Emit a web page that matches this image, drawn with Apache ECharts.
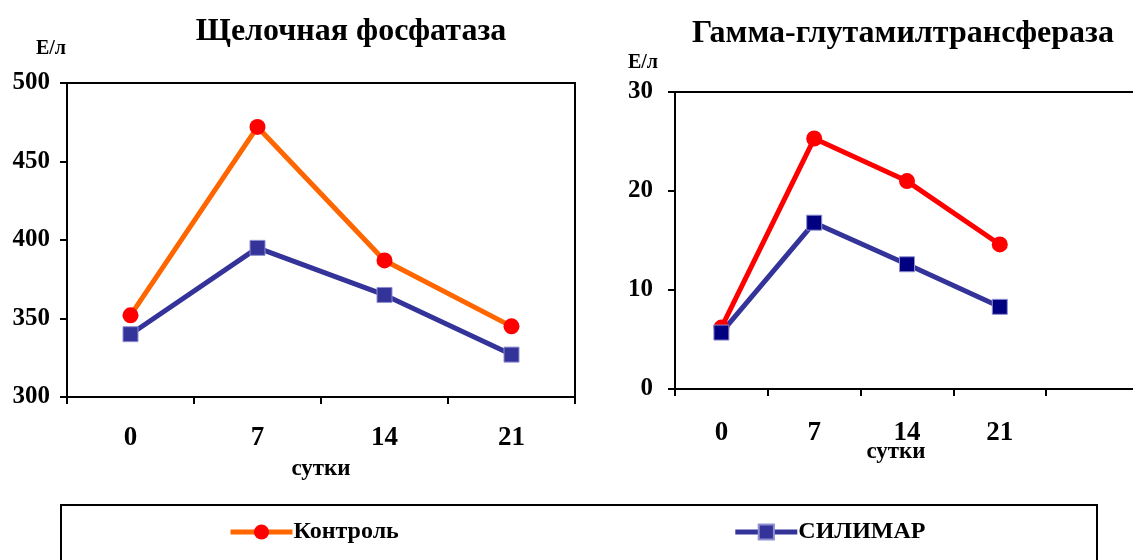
<!DOCTYPE html>
<html>
<head>
<meta charset="utf-8">
<script src="https://cdn.jsdelivr.net/npm/echarts@6/dist/echarts.min.js"></script>
<style>
  html, body { margin: 0; padding: 0; background: #fff; }
  #chart { width: 1133px; height: 560px; }
</style>
</head>
<body>
<div id="chart"></div>
<script>
// Days of observation
const days = ['0', '7', '14', '21'];
const daysGgt = ['0', '7', '14', '21', ''];

// Alkaline phosphatase, U/l
const alpControl = [352, 472, 387, 345];
const alpSilimar = [340, 395, 365, 327];

// Gamma-glutamyltransferase, U/l
const ggtControl = [6.2, 25.3, 21.0, 14.6];
const ggtSilimar = [5.7, 16.8, 12.6, 8.3];

const alpTicks = { min: 300, max: 500, interval: 50 };
const ggtTicks = { min: 0, max: 30, interval: 10 };

const FONT = "'Liberation Serif', 'Times New Roman', serif";
const ORANGE = '#FF6600';
const RED = '#FF0000';
const BLUE = '#333399';
const NAVY = '#000080';

const chart = echarts.init(document.getElementById('chart'));

function xAxisFor(gridIndex, data, labelMargin, nameGap, namePad) {
  return {
    type: 'category', gridIndex, data,
    name: 'сутки', nameLocation: 'middle', nameGap, nameMoveOverlap: false,
    nameTextStyle: { fontFamily: FONT, fontWeight: 'bold', fontSize: 23, color: '#000', padding: namePad },
    axisLine: { lineStyle: { color: '#000', width: 2 } },
    axisTick: { show: true, length: 7, lineStyle: { color: '#000', width: 2 } },
    axisLabel: { fontFamily: FONT, fontWeight: 'bold', fontSize: 27, color: '#000', margin: labelMargin },
    splitLine: { show: false }
  };
}

function yAxisFor(gridIndex, ticks, labelMargin, nameGap, namePad) {
  return {
    type: 'value', gridIndex, min: ticks.min, max: ticks.max, interval: ticks.interval,
    name: 'Е/л', nameLocation: 'end', nameGap, nameMoveOverlap: false,
    nameTextStyle: { fontFamily: FONT, fontWeight: 'bold', fontSize: 20, color: '#000', padding: namePad },
    axisLine: { show: true, lineStyle: { color: '#000', width: 2 } },
    axisTick: { show: true, inside: false, length: 7, lineStyle: { color: '#000', width: 2 } },
    axisLabel: { fontFamily: FONT, fontWeight: 'bold', fontSize: 25, color: '#000', margin: labelMargin },
    splitLine: { show: false }
  };
}

const squareStyle = (fill) => ({ color: fill, borderColor: '#8f8fd0', borderWidth: 1 });

chart.setOption({
  animation: false,
  backgroundColor: '#fff',
  title: [
    { text: 'Щелочная фосфатаза', left: 346, top: 11, textAlign: 'center',
      textStyle: { fontFamily: FONT, fontWeight: 'bold', fontSize: 32, color: '#000' } },
    { text: 'Гамма-глутамилтрансфераза', left: 898, top: 13, textAlign: 'center',
      textStyle: { fontFamily: FONT, fontWeight: 'bold', fontSize: 32, color: '#000' } }
  ],
  legend: {
    left: 223, top: 515, itemWidth: 62, itemHeight: 19, itemGap: 334,
    data: ['Контроль', 'СИЛИМАР'],
    lineStyle: { width: 5 },
    textStyle: { fontFamily: FONT, fontWeight: 'bold', fontSize: 24, color: '#000', padding: [0, 0, 0, -4] }
  },
  graphic: [
    { type: 'rect', shape: { x: 61, y: 505, width: 1036, height: 80 },
      style: { fill: 'none', stroke: '#000', lineWidth: 2 }, silent: true }
  ],
  grid: [
    { left: 67, top: 83, width: 508, height: 314, show: true, borderColor: '#000', borderWidth: 2,
      outerBoundsMode: 'none' },
    { left: 675, top: 92, width: 464, height: 297, show: true, borderColor: '#000', borderWidth: 2,
      outerBoundsMode: 'none' }
  ],
  xAxis: [
    xAxisFor(0, days, 28, 61, [0, 0, 0, 0]),
    xAxisFor(1, daysGgt, 31, 52, [0, 22, 0, 0])
  ],
  yAxis: [
    yAxisFor(0, alpTicks, 17, 24, [0, 32, 0, 0]),
    yAxisFor(1, ggtTicks, 22, 19, [0, 64, 0, 0])
  ],
  series: [
    { name: 'Контроль', type: 'line', xAxisIndex: 0, yAxisIndex: 0, data: alpControl,
      symbol: 'circle', symbolSize: 16, lineStyle: { color: ORANGE, width: 5 },
      itemStyle: { color: RED } },
    { name: 'СИЛИМАР', type: 'line', xAxisIndex: 0, yAxisIndex: 0, data: alpSilimar,
      symbol: 'rect', symbolSize: 15, lineStyle: { color: BLUE, width: 5 },
      itemStyle: squareStyle(BLUE) },
    { name: 'Контроль', type: 'line', xAxisIndex: 1, yAxisIndex: 1, data: ggtControl,
      symbol: 'circle', symbolSize: 16, lineStyle: { color: RED, width: 5 },
      itemStyle: { color: RED } },
    { name: 'СИЛИМАР', type: 'line', xAxisIndex: 1, yAxisIndex: 1, data: ggtSilimar,
      symbol: 'rect', symbolSize: 15, lineStyle: { color: BLUE, width: 5 },
      itemStyle: squareStyle(NAVY) }
  ]
});
</script>
</body>
</html>
